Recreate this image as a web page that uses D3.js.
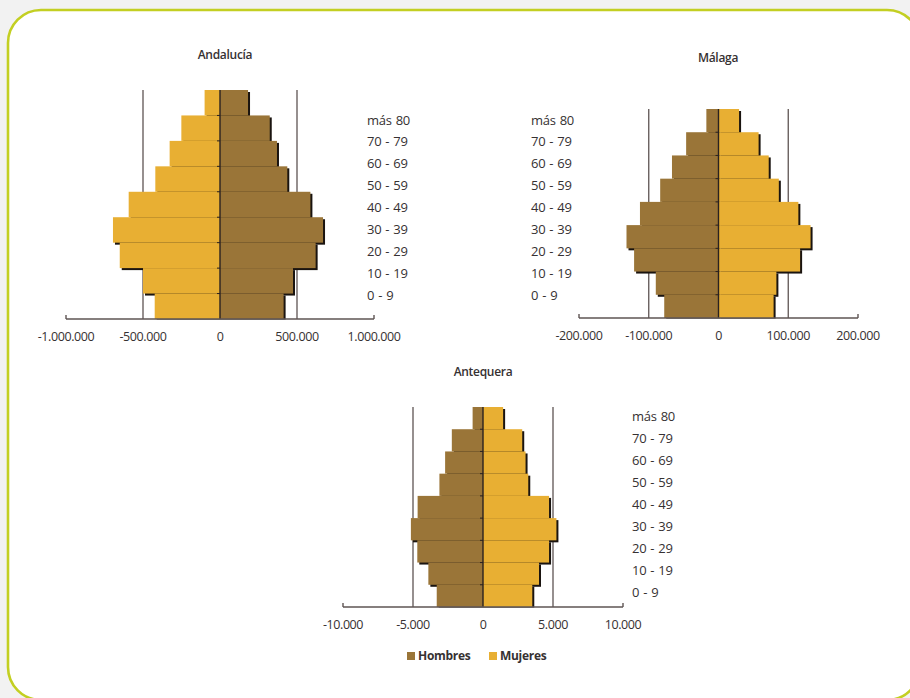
<!DOCTYPE html>
<html>
<head>
<meta charset="utf-8">
<script src="https://cdn.jsdelivr.net/npm/d3@7"></script>
<style>
  html, body { margin: 0; padding: 0; background: #f2f2f2; }
  svg { display: block; }
  text { font-family: "Open Sans", "Noto Sans", sans-serif; fill: #363132; }
</style>
</head>
<body>
<svg id="chart" width="910" height="698"></svg>
<script>
// ---------- DATA ----------
const ageGroups = ["más 80", "70 - 79", "60 - 69", "50 - 59", "40 - 49", "30 - 39", "20 - 29", "10 - 19", "0 - 9"];

// Andalucía: gold bars on the left, brown bars on the right
const andaluciaLeft  = [100000, 251000, 327000, 420000, 593000, 695000, 651000, 500000, 424000];
const andaluciaRight = [182000, 323000, 370000, 437000, 587000, 669000, 621000, 474000, 413000];
const andaluciaTicks = [-1000000, -500000, 0, 500000, 1000000];

// Málaga: brown (Hombres) left, gold (Mujeres) right
const malagaHombres = [17400, 46400, 66700, 83600, 112600, 131900, 121000, 89900, 77800];
const malagaMujeres = [29500, 57500, 72000, 86500, 114500, 132000, 117000, 83000, 79000];
const malagaTicks = [-200000, -100000, 0, 100000, 200000];

// Antequera: brown (Hombres) left, gold (Mujeres) right
const antequeraHombres = [742, 2227, 2706, 3113, 4670, 5150, 4693, 3903, 3305];
const antequeraMujeres = [1437, 2802, 3040, 3233, 4718, 5244, 4718, 4000, 3520];
const antequeraTicks = [-10000, -5000, 0, 5000, 10000];

const legendItems = ["Hombres", "Mujeres"];

// ---------- STYLE ----------
const BROWN = "#9a7538";
const GOLD = "#e8af33";
const AXIS = "#5e5453";

const locale = d3.formatLocale({ decimal: ",", thousands: ".", grouping: [3], currency: ["", "€"], minus: "-" });
const fmt = locale.format(",d");

const svg = d3.select("#chart");

// frame
svg.append("rect")
  .attr("x", 8).attr("y", 10).attr("width", 912).attr("height", 690)
  .attr("rx", 33).attr("ry", 33)
  .attr("fill", "#ffffff")
  .attr("stroke", "#c3cf22").attr("stroke-width", 2.6);

function pyramid(opt) {
  const g = svg.append("g");
  const x = d3.scaleLinear().domain([opt.ticks[0], opt.ticks[opt.ticks.length - 1]]).range([opt.x0, opt.x1]);
  const y = d3.scaleBand().domain(ageGroups).range([opt.top, opt.bottom]).paddingInner(0).paddingOuter(0);

  // gridlines at ±half
  const grids = opt.ticks.filter(t => t !== 0 && Math.abs(t) !== opt.ticks[opt.ticks.length - 1]);
  g.selectAll("line.grid").data(grids).join("line")
    .attr("x1", d => x(d)).attr("x2", d => x(d))
    .attr("y1", opt.top).attr("y2", opt.bottom)
    .attr("stroke", AXIS).attr("stroke-width", 1.3);

  const rows = ageGroups.map((a, i) => ({ age: a, left: opt.left[i], right: opt.right[i] }));

  // shadows
  const sh = 2;
  g.selectAll("rect.shl").data(rows).join("rect")
    .attr("x", d => x(-d.left) + sh).attr("y", d => y(d.age) + sh)
    .attr("width", d => x(0) - x(-d.left)).attr("height", y.bandwidth())
    .attr("fill", "#1a1410");
  g.selectAll("rect.shr").data(rows).join("rect")
    .attr("x", d => x(0) + sh).attr("y", d => y(d.age) + sh)
    .attr("width", d => x(d.right) - x(0)).attr("height", y.bandwidth())
    .attr("fill", "#1a1410");

  // bars
  g.selectAll("rect.bl").data(rows).join("rect")
    .attr("x", d => x(-d.left)).attr("y", d => y(d.age))
    .attr("width", d => x(0) - x(-d.left)).attr("height", y.bandwidth())
    .attr("fill", opt.leftColor);
  g.selectAll("rect.br").data(rows).join("rect")
    .attr("x", d => x(0)).attr("y", d => y(d.age))
    .attr("width", d => x(d.right) - x(0)).attr("height", y.bandwidth())
    .attr("fill", opt.rightColor);

  // white cover below axis for shadow overflow
  g.append("rect").attr("x", opt.x0).attr("y", opt.bottom + 0.5)
    .attr("width", opt.x1 - opt.x0 + 4).attr("height", 3).attr("fill", "#fff");

  // center axis line with ticks at band boundaries
  g.append("line")
    .attr("x1", x(0)).attr("x2", x(0)).attr("y1", opt.top).attr("y2", opt.bottom)
    .attr("stroke", "#2a2220").attr("stroke-width", 1.4);
  g.selectAll("line.ct").data(ageGroups.slice(1)).join("line")
    .attr("x1", x(0) - 3).attr("x2", x(0))
    .attr("y1", d => y(d)).attr("y2", d => y(d))
    .attr("stroke", "#2a2220").attr("stroke-width", 1);

  // x axis
  g.append("line")
    .attr("x1", opt.x0).attr("x2", opt.x1).attr("y1", opt.bottom).attr("y2", opt.bottom)
    .attr("stroke", AXIS).attr("stroke-width", 1.4);
  g.selectAll("line.et").data([opt.ticks[0], opt.ticks[opt.ticks.length - 1]]).join("line")
    .attr("x1", d => x(d)).attr("x2", d => x(d))
    .attr("y1", opt.bottom - 4).attr("y2", opt.bottom)
    .attr("stroke", AXIS).attr("stroke-width", 1.4);

  g.selectAll("text.tick").data(opt.ticks).join("text")
    .attr("x", d => x(d)).attr("y", opt.bottom + 22)
    .attr("text-anchor", "middle")
    .attr("font-size", 12.5)
    .attr("letter-spacing", -0.4)
    .text(d => fmt(d));

  // title
  g.append("text")
    .attr("x", opt.titleX).attr("y", opt.titleY)
    .attr("text-anchor", "middle").attr("font-size", 12)
    .attr("font-weight", 600)
    .attr("letter-spacing", -0.3)
    .text(opt.title);

  // age labels (offset from bars, as in original)
  const ly = d3.scalePoint().domain(ageGroups).range([opt.labelTop, opt.labelBottom]);
  g.selectAll("text.lab").data(ageGroups).join("text")
    .attr("x", opt.labelX).attr("y", d => ly(d))
    .attr("dy", "0.35em")
    .attr("font-size", 13)
    .attr("letter-spacing", -0.3)
    .attr("word-spacing", 1)
    .text(d => d);
}

pyramid({
  title: "Andalucía", titleX: 225, titleY: 59,
  ticks: andaluciaTicks, x0: 66, x1: 374, top: 90, bottom: 319,
  left: andaluciaLeft, right: andaluciaRight, leftColor: GOLD, rightColor: BROWN,
  labelX: 367, labelTop: 120, labelBottom: 295
});

pyramid({
  title: "Málaga", titleX: 718, titleY: 62,
  ticks: malagaTicks, x0: 579, x1: 858, top: 109, bottom: 318,
  left: malagaHombres, right: malagaMujeres, leftColor: BROWN, rightColor: GOLD,
  labelX: 531, labelTop: 120, labelBottom: 295
});

pyramid({
  title: "Antequera", titleX: 483, titleY: 376,
  ticks: antequeraTicks, x0: 343, x1: 623, top: 407, bottom: 607,
  left: antequeraHombres, right: antequeraMujeres, leftColor: BROWN, rightColor: GOLD,
  labelX: 632, labelTop: 416, labelBottom: 592
});

// legend
const legend = svg.append("g");
const legendX = [407, 489];
const legendColors = [BROWN, GOLD];
legendItems.forEach((name, i) => {
  legend.append("rect").attr("x", legendX[i]).attr("y", 652).attr("width", 8).attr("height", 8)
    .attr("fill", legendColors[i]);
  legend.append("text").attr("x", legendX[i] + 11).attr("y", 660)
    .attr("font-size", 12).attr("font-weight", "bold").attr("letter-spacing", -0.3)
    .text(name);
});
</script>
</body>
</html>
